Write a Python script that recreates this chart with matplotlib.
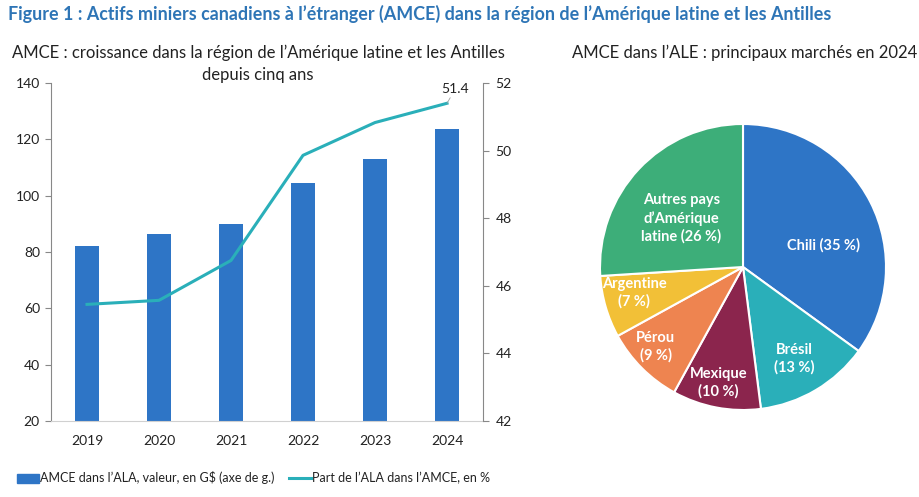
import numpy as np
import matplotlib.pyplot as plt
from matplotlib.patches import Patch
from matplotlib.lines import Line2D

plt.rcParams['font.family'] = ['Lato', 'DejaVu Sans']

# data
years = ['2019', '2020', '2021', '2022', '2023', '2024']
amce_ala = [82.1, 86.4, 89.8, 104.6, 113.1, 123.7]
part_ala = [45.45, 45.57, 46.75, 49.86, 50.83, 51.4]

pie_labels = ['Chili (35 %)', 'Brésil\n(13 %)', 'Mexique\n(10 %)', 'Pérou\n(9 %)',
              'Argentine\n(7 %)', 'Autres pays\nd\u2019Amérique\nlatine (26 %)']
pie_values = [35, 13, 10, 9, 7, 26]

bar_col = '#2E75C6'
line_col = '#2AAFB9'
pie_cols = ['#2E75C6', '#2AAFB9', '#8B254D', '#EE8450', '#F2C037', '#3DAE79']
txt = '#222222'

fig = plt.figure(figsize=(9.2, 4.97), dpi=100)

fig.text(8/920, 1-14/497, 'Figure 1 : Actifs miniers canadiens à l\u2019étranger (AMCE) dans la région de l\u2019Amérique latine et les Antilles',
         color='#2E75B6', fontsize=12.9, fontweight='bold', va='center', ha='left')
fig.text(258/920, 1-53/497, 'AMCE : croissance dans la région de l\u2019Amérique latine et les Antilles',
         fontsize=12, color=txt, ha='center', va='center')
fig.text(258/920, 1-75/497, 'depuis cinq ans',
         fontsize=12, color=txt, ha='center', va='center')
fig.text(745/920, 1-53/497, 'AMCE dans l\u2019ALE : principaux marchés en 2024',
         fontsize=12, color=txt, ha='center', va='center')

# left chart
ax = fig.add_axes([51/920, 1-421/497, 432/920, 338/497])
x = np.arange(len(years))
ax.bar(x, amce_ala, width=0.32, color=bar_col, zorder=2)
ax.set_ylim(20, 140)
ax.set_xlim(-0.5, 5.5)
ax.set_yticks(range(20, 141, 20))
ax.set_xticks(x)
ax.set_xticklabels(years)
for s in ['top', 'right']:
    ax.spines[s].set_visible(False)
ax.spines['left'].set_color('#888888')
ax.spines['bottom'].set_color('#d0d0d0')
ax.tick_params(axis='x', length=0, pad=10, labelsize=10, colors=txt)
ax.tick_params(axis='y', length=4, color='#888888', labelsize=10, labelcolor=txt, pad=4)

ax2 = ax.twinx()
ax2.plot(x, part_ala, color=line_col, lw=2.2, zorder=3)
ax2.set_ylim(42, 52)
ax2.set_yticks(range(42, 53, 2))
for s in ['top', 'left', 'bottom']:
    ax2.spines[s].set_visible(False)
ax2.spines['right'].set_color('#888888')
ax2.tick_params(axis='y', length=4, color='#888888', labelsize=10, labelcolor=txt, pad=5)
ax2.annotate(f'{part_ala[-1]:.1f}', xy=(x[-1], part_ala[-1]), xytext=(6, 6),
             textcoords='offset points', fontsize=10, color=txt, ha='center', va='bottom',
             arrowprops=dict(arrowstyle='-', color='#a0a0a0', lw=0.6, shrinkA=0, shrinkB=0))

# legend
handles = [Patch(color=bar_col), Line2D([], [], color=line_col, lw=2.2)]
fig.legend(handles, ['AMCE dans l\u2019ALA, valeur, en G$ (axe de g.)', 'Part de l\u2019ALA dans l\u2019AMCE, en %'],
           loc='center left', bbox_to_anchor=(6/920, 1-478/497), ncol=2, frameon=False,
           fontsize=9, handlelength=1.7, handletextpad=0.1, columnspacing=1.2,
           labelcolor=txt)

# pie
axp = fig.add_axes([(743-143)/920, 1-(267+143)/497, 286/920, 286/497])
axp.pie(pie_values, colors=pie_cols, startangle=90, counterclock=False,
        radius=1, wedgeprops=dict(edgecolor='white', linewidth=1.5))
axp.set_xlim(-1, 1)
axp.set_ylim(-1, 1)
axp.set_aspect('equal')
label_pos = [(0.56, 0.15), (0.36, -0.64), (-0.17, -0.81), (-0.61, -0.56), (-0.76, -0.18), (-0.43, 0.34)]
for lab, (lx, ly) in zip(pie_labels, label_pos):
    axp.text(lx, ly, lab, color='white', fontsize=10.5, fontweight='bold', ha='center', va='center',
             linespacing=1.3)

fig.savefig('out.png', dpi=100)
